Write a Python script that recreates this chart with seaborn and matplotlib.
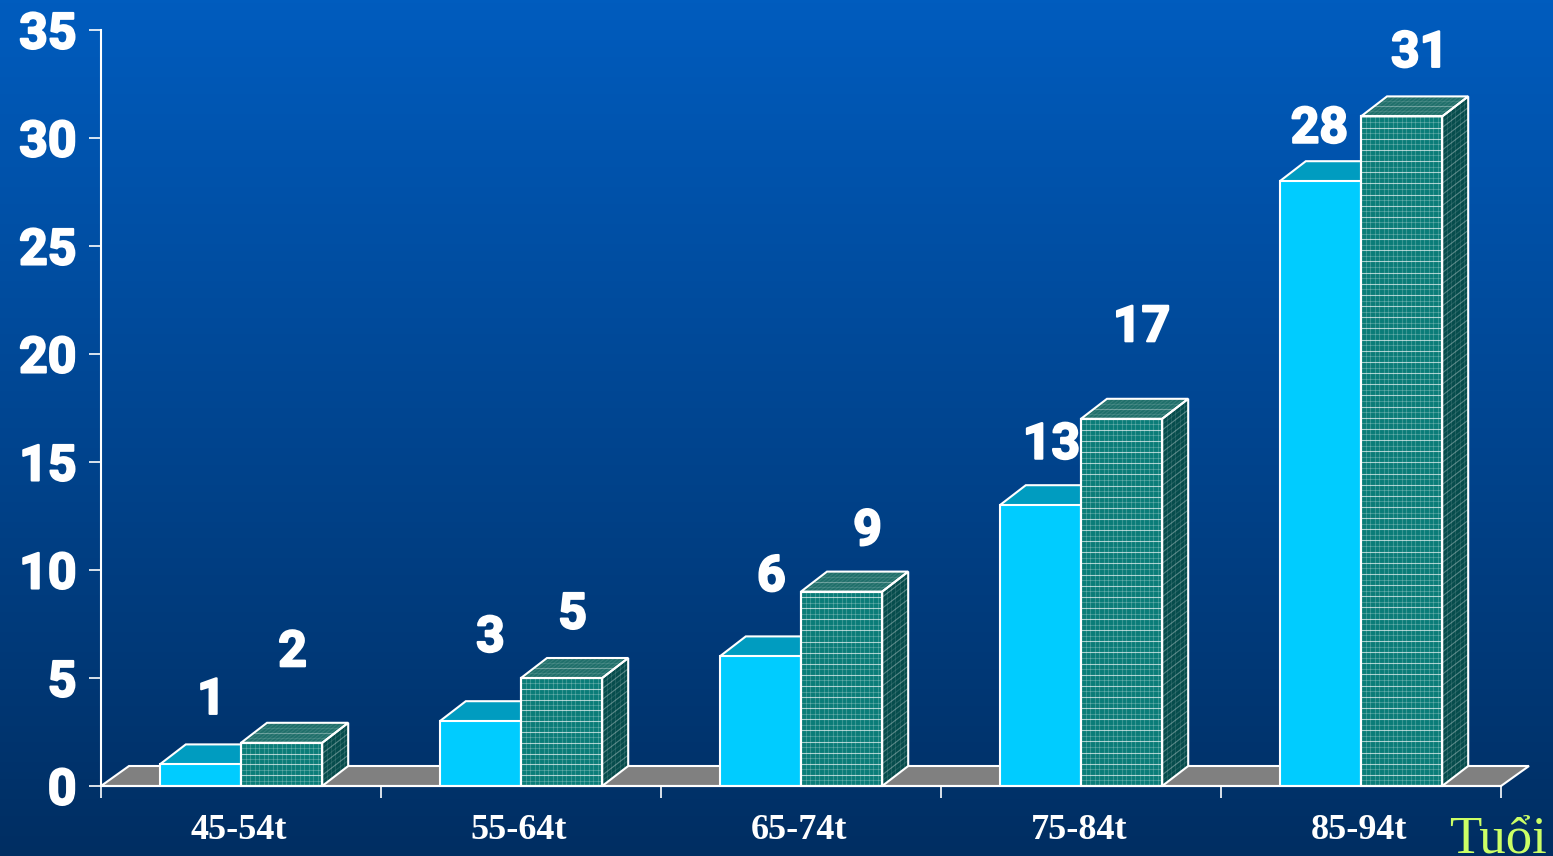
import numpy as np
import pandas as pd
import matplotlib
matplotlib.use("Agg")
import matplotlib.pyplot as plt
import matplotlib.patheffects as pe
from matplotlib.collections import LineCollection
from matplotlib.patches import Polygon, Rectangle
from matplotlib.transforms import ScaledTranslation
import seaborn as sns

# ---- data ----
age_groups = ["45-54t", "55-64t", "65-74t", "75-84t", "85-94t"]
series_a = [1, 3, 6, 13, 28]
series_b = [2, 5, 9, 17, 31]
y_ticks = [0, 5, 10, 15, 20, 25, 30, 35]

# ---- layout / style ----
W, H = 1553, 856
L, R, T, B = 101, 1501, 30, 786
PX_X = (R - L) / 5
PX_Y = (B - T) / 35
DX, DY = 26 / PX_X, 20 / PX_Y
FLOOR_DX, FLOOR_DY = 28 / PX_X, 20 / PX_Y
label_dx_a = [11, 10, 11, 11, -1]
label_dx_b = [11, 11, 26, 20, 18]
label_dy_a = [69, 88, 84, 65, 57]
label_dy_b = [95, 68, 65, 96, 68]
BLUE, BLUE_TOP = "#00CCFF", "#009CC0"
TEAL, TEAL_TOP, TEAL_SIDE = "#0A7C78", "#1F6F6A", "#064C4C"
NUM_FONT = "Roboto"
SERIF = "Liberation Serif"
STROKE = [pe.withStroke(linewidth=1.5, foreground="white")]

sns.set_theme(style="white")
fig = plt.figure(figsize=(W / 100, H / 100), dpi=100)

bg = fig.add_axes([0, 0, 1, 1], zorder=0)
top_c = np.array([0, 92, 190]) / 255
bot_c = np.array([0, 46, 98]) / 255
t = np.linspace(0, 1, 256)[:, None, None]
bg.imshow(top_c[None, None, :] * (1 - t) + bot_c[None, None, :] * t, aspect="auto")
bg.axis("off")

ax = fig.add_axes([L / W, 1 - B / H, (R - L) / W, (B - T) / H], zorder=1)
ax.patch.set_alpha(0)

df = pd.DataFrame({
    "age": age_groups * 2,
    "value": series_a + series_b,
    "series": ["a"] * 5 + ["b"] * 5,
})
sns.barplot(data=df, x="age", y="value", hue="series", order=age_groups,
            palette={"a": BLUE, "b": TEAL}, width=0.58, gap=0, dodge=True, saturation=1,
            legend=False, edgecolor="white", linewidth=1.5, ax=ax, zorder=3)
ax.set_xlim(-0.5, 4.5)
ax.set_ylim(0, 35)
ax.set_xlabel("")
ax.set_ylabel("")

bars = [p for p in ax.patches if isinstance(p, Rectangle)
        and p.get_height() > 0 and p.get_width() < 1]

# floor
ax.add_patch(Polygon([(-0.5, 0), (-0.5 + FLOOR_DX, FLOOR_DY), (4.5 + FLOOR_DX, FLOOR_DY), (4.5, 0)],
                     closed=True, fc="#808080", ec="white", lw=1.5, zorder=1.5, clip_on=False))


def grid(p0, u, v, nu, nv, zorder, fade=1.0):
    """Fine mesh on a parallelogram p0, p0+u, p0+u+v, p0+v."""
    p0, u, v = map(np.array, (p0, u, v))
    segs, cols = [], []
    for f in np.linspace(0, 1, nu + 2)[1:-1]:
        segs.append([p0 + f * u, p0 + f * u + v])
        cols.append((1, 1, 1, 0.2 * fade))
    for j, f in enumerate(np.linspace(0, 1, nv + 2)[1:-1]):
        segs.append([p0 + f * v, p0 + f * v + u])
        cols.append((1, 1, 1, (0.65 if j % 2 else 0.22) * fade))
    ax.add_collection(LineCollection(segs, colors=cols, linewidths=0.8, zorder=zorder,
                                     clip_on=False), autolim=False)


n = len(age_groups)
for i in range(n):
    group = sorted([b for b in bars if abs(b.get_x() + b.get_width() / 2 - i) < 0.5],
                   key=lambda b: b.get_x())
    a, b = group
    a.set_zorder(3)
    x, w, h = a.get_x(), a.get_width(), a.get_height()
    ax.add_patch(Polygon([(x, h), (x + DX, h + DY), (x + w + DX, h + DY), (x + w, h)],
                         closed=True, fc=BLUE_TOP, ec="white", lw=1.5, zorder=2.8, clip_on=False))
    b.set_zorder(4)
    x, w, h = b.get_x(), b.get_width(), b.get_height()
    side = [(x + w, 0), (x + w + DX, DY), (x + w + DX, h + DY), (x + w, h)]
    top = [(x, h), (x + DX, h + DY), (x + w + DX, h + DY), (x + w, h)]
    ax.add_patch(Polygon(side, closed=True, fc=TEAL_SIDE, ec="none", zorder=4, clip_on=False))
    ax.add_patch(Polygon(top, closed=True, fc=TEAL_TOP, ec="none", zorder=4, clip_on=False))
    nv_front = max(int(h * PX_Y / 5.6), 1)
    grid((x, 0), (w, 0), (0, h), 17, nv_front, 4.2)
    grid((x + w, 0), (DX, DY), (0, h), 5, nv_front, 4.2, fade=0.5)
    grid((x, h), (w, 0), (DX, DY), 17, 3, 4.2, fade=0.5)
    ax.add_patch(Polygon([(x, 0), (x + w, 0), (x + w, h), (x, h)], closed=True,
                         fc="none", ec="white", lw=1.5, zorder=4.5, clip_on=False))
    ax.add_patch(Polygon(side, closed=True, fc="none", ec="white", lw=1.5, zorder=4.5, clip_on=False))
    ax.add_patch(Polygon(top, closed=True, fc="none", ec="white", lw=1.5, zorder=4.5, clip_on=False))
    for bar, val, ddx, ddy in ((a, series_a[i], label_dx_a[i], label_dy_a[i]),
                               (b, series_b[i], label_dx_b[i], label_dy_b[i])):
        ax.annotate(str(val), (bar.get_x() + bar.get_width() / 2, val),
                    xytext=(ddx, ddy), textcoords="offset pixels", ha="center",
                    va="center_baseline",
                    color="white", fontsize=36, fontweight="bold", family=NUM_FONT,
                    zorder=6, annotation_clip=False, path_effects=STROKE)

# axes
for s in ("top", "right"):
    ax.spines[s].set_visible(False)
for s in ("left", "bottom"):
    ax.spines[s].set_color("white")
    ax.spines[s].set_linewidth(1.5)
    ax.spines[s].set_zorder(5)
ax.set_yticks(y_ticks)
ax.set_yticklabels([str(v) for v in y_ticks], family=NUM_FONT, fontweight="bold",
                   fontsize=36, color="white", path_effects=STROKE)
ax.tick_params(axis="y", length=8.6, width=1.2, color="white", pad=9, left=True)
ax.set_xticks(range(n))
ax.set_xticklabels(age_groups, family=SERIF, fontweight="bold", fontsize=26, color="white")
ax.tick_params(axis="x", which="major", length=0, pad=20)
shift = ScaledTranslation(-2 / 100, 0, fig.dpi_scale_trans)
for lab in ax.get_xticklabels():
    lab.set_transform(lab.get_transform() + shift)
ax.set_xticks(np.arange(-0.5, n), minor=True)
ax.tick_params(axis="x", which="minor", length=8.6, width=1.2, color="white", bottom=True)

fig.text(1449 / W, 1 - 853 / H, "Tuổi", family=SERIF, fontsize=38, color="#CCFF66",
         ha="left", va="baseline", zorder=7)

fig.savefig("out.png", dpi=100)
